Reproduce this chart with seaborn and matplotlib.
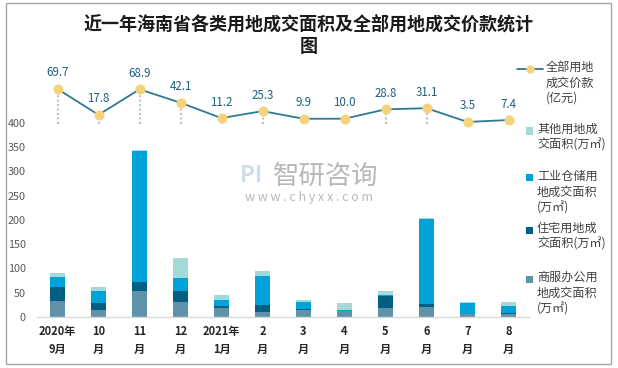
import numpy as np
import pandas as pd
import matplotlib
matplotlib.use("Agg")
import matplotlib.pyplot as plt
import seaborn as sns
from matplotlib.lines import Line2D
from matplotlib.patches import Rectangle

# ---------------- data ----------------
months = ["2020年\n9月", "10\n月", "11\n月", "12\n月", "2021年\n1月", "2\n月",
          "3\n月", "4\n月", "5\n月", "6\n月", "7\n月", "8\n月"]
commercial = [32, 14, 53, 30, 18.5, 10, 14, 12, 18, 20, 5.5, 5.5]     # 商服办公用地
residential = [29, 14, 18, 23, 3.5, 14, 2, 0.5, 25, 6, 0.5, 2]        # 住宅用地
industrial = [21, 25, 270, 27, 14, 60, 14, 2.5, 2, 175, 22.5, 14.5]   # 工业仓储用地
other = [8, 8, 2, 41, 9, 10, 4, 13, 8, 2, 2, 8]                       # 其他用地
price = [69.7, 17.8, 68.9, 42.1, 11.2, 25.3, 9.9, 10.0, 28.8, 31.1, 3.5, 7.4]
yticks = [0, 50, 100, 150, 200, 250, 300, 350, 400]

title = "近一年海南省各类用地成交面积及全部用地成交价款统计\n图"
series_names = ["商服办公用\n地成交面积\n(万㎡)", "住宅用地成\n交面积(万㎡)",
                "工业仓储用\n地成交面积\n(万㎡)", "其他用地成\n交面积(万㎡)"]
line_name = "全部用地\n成交价款\n(亿元)"

c_com = "#5f91a9"
c_res = "#005f82"
c_ind = "#00a3d9"
c_oth = "#a3d9d6"
c_line = "#2f7896"
c_pt = "#f6d27c"

# ---------------- style ----------------
sns.set_style("white")
plt.rcParams["font.family"] = ["Noto Sans CJK SC", "DejaVu Sans"]

W, H = 618, 368
fig = plt.figure(figsize=(W / 100, H / 100), dpi=100)

ax_left, ax_right = 37, 529
ax_top, ax_bot = 60, 317
ax = fig.add_axes([ax_left / W, 1 - ax_bot / H, (ax_right - ax_left) / W, (ax_bot - ax_top) / H])

df = pd.DataFrame({"month": months, "com": commercial, "res": residential,
                   "ind": industrial, "oth": other})
df["c1"] = df["com"]
df["c2"] = df["c1"] + df["res"]
df["c3"] = df["c2"] + df["ind"]
df["c4"] = df["c3"] + df["oth"]

for col, colr in [("c4", c_oth), ("c3", c_ind), ("c2", c_res), ("c1", c_com)]:
    sns.barplot(data=df, x="month", y=col, order=months, color=colr, width=0.39,
                linewidth=0, saturation=1, ax=ax, errorbar=None)

px_per_unit = 0.486
ax.set_ylim(0, (ax_bot - ax_top) / px_per_unit)
ax.set_xlim(-0.5, 11.5)
ax.set_yticks(yticks)
ax.set_yticklabels([str(v) for v in yticks])
ax.set_xticks(range(len(months)))
ax.set_xticklabels(months, fontsize=8, fontweight="bold", color="#262626", linespacing=1.45)
ax.set_xticks(np.arange(-0.5, 12, 1), minor=True)
ax.tick_params(axis="x", which="major", length=0, pad=6)
ax.tick_params(axis="x", which="minor", length=5, color="#d9d9d9", width=1)
ax.tick_params(axis="y", length=0, pad=8, labelsize=7.8, labelcolor="#595959")
ax.set_xlabel("")
ax.set_ylabel("")
for s in ["top", "right", "left"]:
    ax.spines[s].set_visible(False)
ax.spines["bottom"].set_color("#d9d9d9")
ax.spines["bottom"].set_linewidth(1)

# ---------------- line on secondary axis ----------------
ax2 = ax.twinx()
lpx = 0.4985
zero_y = 123.7
ax2.set_ylim(-(ax_bot - zero_y) / lpx, (zero_y - ax_top) / lpx)
x = np.arange(len(price))
ax2.vlines(x, 0, price, colors="#c4c4c4", linestyles=(0, (1, 1)), linewidth=1.6, zorder=1)
sns.lineplot(x=x, y=price, ax=ax2, color=c_line, linewidth=1.3, marker="o", markersize=6.5,
             markerfacecolor=c_pt, markeredgecolor=c_pt, zorder=3)
for xi, v in zip(x, price):
    ax2.annotate(f"{v:.1f}", (xi, v), xytext=(0, 11.5), textcoords="offset points",
                 ha="center", va="center", fontsize=8.3, color="#1f5f80")
ax2.set_yticks([])
ax2.set_ylabel("")
for s in ax2.spines.values():
    s.set_visible(False)
ax2.set_xlim(-0.5, 11.5)

# ---------------- title ----------------
fig.text(0.5, 1 - 35 / H, title, ha="center", va="center", fontsize=13, fontweight="bold",
         color="#1a1a1a", linespacing=1.2)

# ---------------- watermark ----------------
fig.text(326 / W, 1 - 176 / H, "智研咨询", ha="center", va="center", fontsize=19,
         color="#a0a0a0", alpha=0.75)
fig.text(309 / W, 1 - 197 / H, "w w w . c h y x x . c o m", ha="center", va="center",
         fontsize=9, color="#a0a0a0", alpha=0.75)
fig.text(251 / W, 1 - 176 / H, "PI", ha="center", va="center", fontsize=16,
         fontweight="bold", color="#c5d6e6", alpha=0.8)

# ---------------- legend (manual) ----------------
leg_fs = 8.7
def ftxt(xp, yp, s):
    fig.text(xp / W, 1 - yp / H, s, ha="left", va="top", fontsize=leg_fs,
             color="#404040", linespacing=1.25)

fig.add_artist(Line2D([517 / W, 543 / W], [1 - 69 / H] * 2, color=c_line, lw=1.3))
fig.add_artist(Line2D([530 / W], [1 - 69 / H], marker="o", markersize=5,
                      color=c_pt, markeredgecolor=c_pt))
ftxt(546, 61, line_name)

legend_entries = [(131, c_oth, series_names[3]), (178, c_ind, series_names[2]),
                  (230, c_res, series_names[1]), (279, c_com, series_names[0])]
for yc, colr, lab in legend_entries:
    fig.add_artist(Rectangle(((529 - 3.5) / W, 1 - (yc + 3.5) / H), 7 / W, 7 / H,
                             facecolor=colr, edgecolor="none"))
    ftxt(537, yc - 8, lab)

# ---------------- border ----------------
fig.add_artist(Rectangle((5.5 / W, 4 / H), 605 / W, 361 / H, fill=False,
                         edgecolor="#a6a6a6", linewidth=1))

fig.savefig("out.png", dpi=100)
